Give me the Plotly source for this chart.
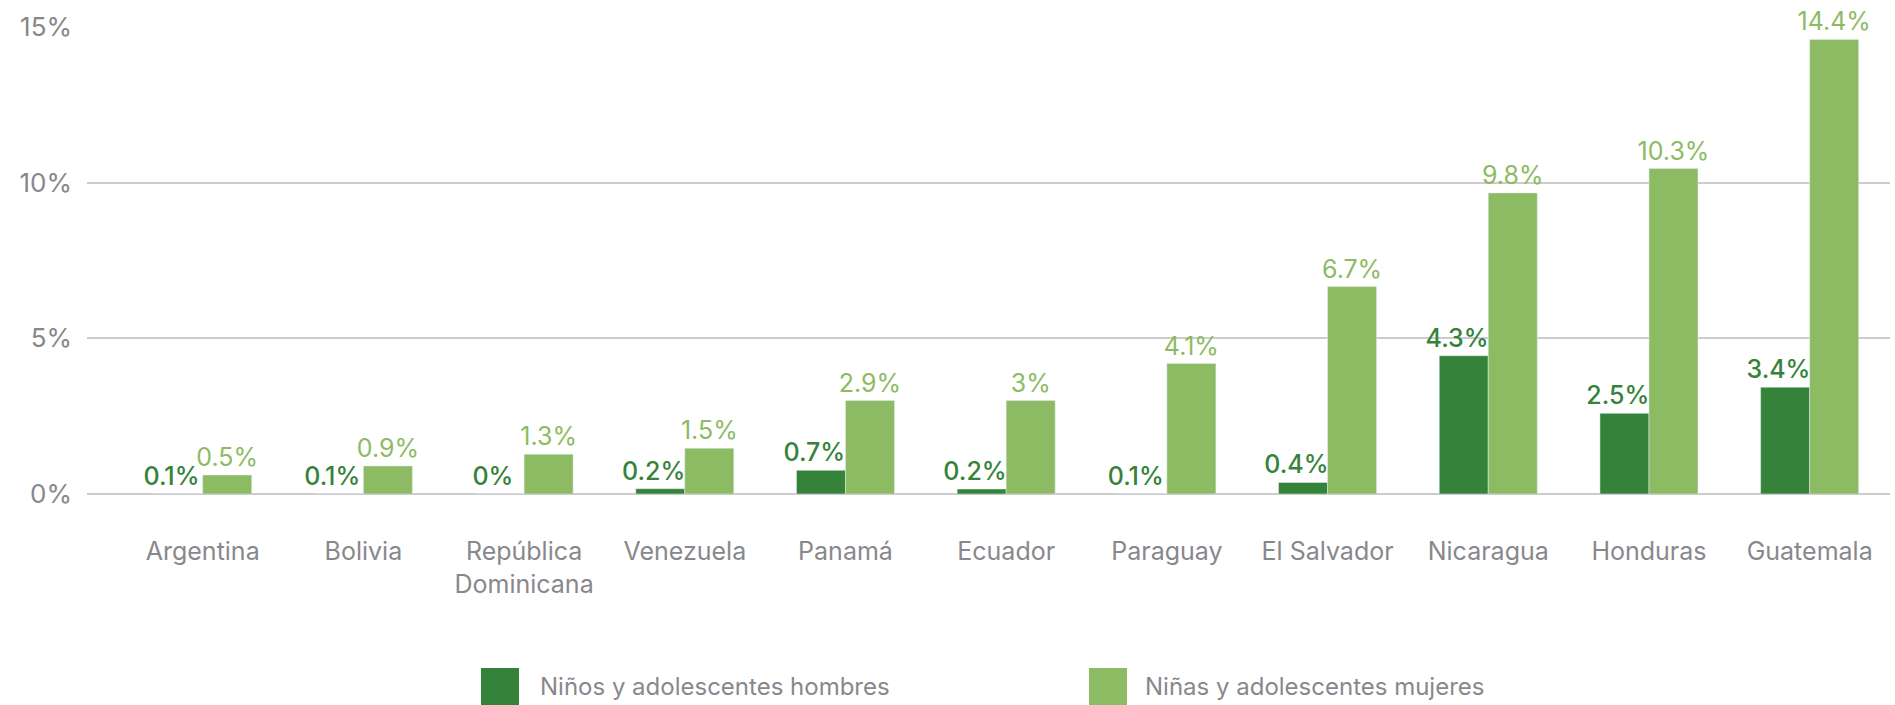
import plotly.graph_objects as go

# categories and values
paises = ["Argentina", "Bolivia", "República<br>Dominicana", "Venezuela", "Panamá",
          "Ecuador", "Paraguay", "El Salvador", "Nicaragua", "Honduras", "Guatemala"]
hombres = [0.0, 0.0, 0.0, 0.17, 0.76, 0.16, 0.0, 0.37, 4.44, 2.59, 3.43]
mujeres = [0.61, 0.9, 1.28, 1.47, 3.0, 3.0, 4.19, 6.66, 9.67, 10.45, 14.6]
etiquetas_hombres = ["0.1%", "0.1%", "0%", "0.2%", "0.7%", "0.2%", "0.1%", "0.4%", "4.3%", "2.5%", "3.4%"]
etiquetas_mujeres = ["0.5%", "0.9%", "1.3%", "1.5%", "2.9%", "3%", "4.1%", "6.7%", "9.8%", "10.3%", "14.4%"]
series = ["Niños y adolescentes hombres", "Niñas y adolescentes mujeres"]
y_ticks = [0, 5, 10, 15]
y_ticktext = ["0%", "5%", "10%", "15%"]

VERDE_OSCURO = "#35833a"
VERDE_CLARO = "#8dbb63"
GRIS = "#88888c"
FUENTE = "Inter, Roboto, sans-serif"

fig = go.Figure()
fig.add_trace(go.Bar(
    x=paises, y=hombres, name=series[0],
    marker_color=VERDE_OSCURO,
    text=etiquetas_hombres, textposition="outside",
    # trailing nbsp nudges the label a little to the left, as in the original
    texttemplate="%{text}\u00a0\u00a0",
    textfont=dict(color=VERDE_OSCURO, size=25, family=FUENTE, weight=500),
    constraintext="none", cliponaxis=False,
))
fig.add_trace(go.Bar(
    x=paises, y=mujeres, name=series[1],
    marker_color=VERDE_CLARO,
    text=etiquetas_mujeres, textposition="outside",
    textfont=dict(color=VERDE_CLARO, size=25, family=FUENTE),
    constraintext="none", cliponaxis=False,
))

W, H = 1895, 705
L, R, T, B = 87, 5, 26, 211
pw, ph = W - L - R, H - T - B
Y_MAX = 15.03


def px_x(x):
    # page pixel -> paper coordinate
    return (x - L) / pw


def px_y(y):
    return (H - B - y) / ph


# hand-drawn legend, big squares like the original
legend = [(481, 538, VERDE_OSCURO, series[0]), (1089, 1143, VERDE_CLARO, series[1])]
for sq_x, txt_x, color, name in legend:
    fig.add_shape(type="rect", xref="paper", yref="paper",
                  x0=px_x(sq_x), x1=px_x(sq_x + 38), y0=px_y(668), y1=px_y(712),
                  fillcolor=color, line_width=0, layer="above")
    fig.add_annotation(xref="paper", yref="paper", x=px_x(txt_x), y=px_y(687),
                       text=name, showarrow=False, xanchor="left", yanchor="middle",
                       font=dict(size=24, color=GRIS, family=FUENTE))

fig.update_layout(
    width=W, height=H,
    barmode="group", bargap=0.39, bargroupgap=0,
    showlegend=False,
    paper_bgcolor="white", plot_bgcolor="white",
    margin=dict(l=L, r=R, t=T, b=B, autoexpand=False),
    font=dict(family=FUENTE, color=GRIS),
    xaxis=dict(range=[-0.72, 10.5], showgrid=False, showline=False, zeroline=False,
               tickfont=dict(size=25, color=GRIS), ticklabelstandoff=40, fixedrange=True),
    yaxis=dict(range=[0, Y_MAX], tickmode="array", tickvals=y_ticks, ticktext=y_ticktext,
               showgrid=True, gridcolor="#cccccc", gridwidth=1.5,
               zeroline=True, zerolinecolor="#cccccc", zerolinewidth=1.5,
               tickfont=dict(size=26, color=GRIS), ticklabelstandoff=14, fixedrange=True),
)

# drop the default body margin so the figure fills the window exactly
fig.write_html("out.html", config={"displayModeBar": False},
               post_script="document.body.style.margin='0';")
